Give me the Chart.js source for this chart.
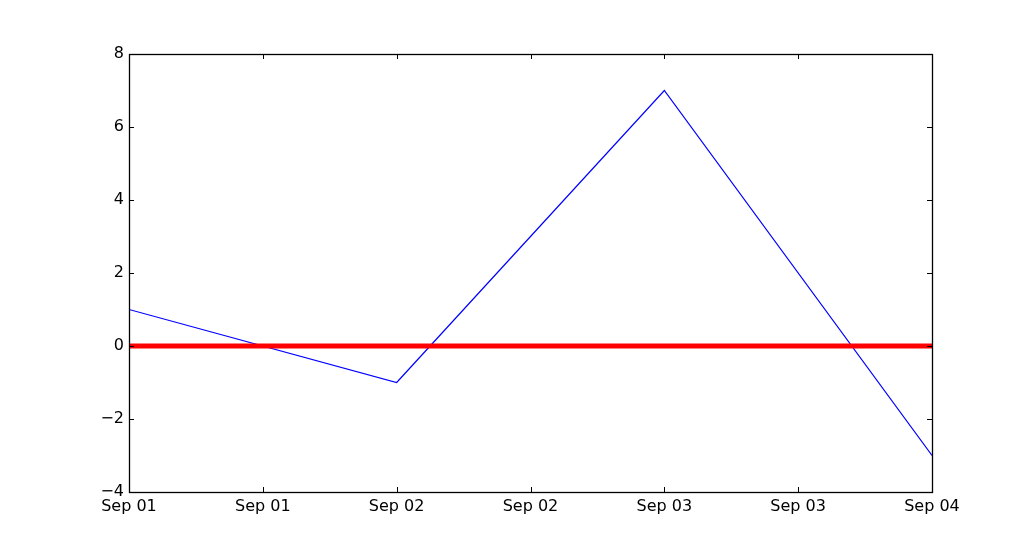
<!DOCTYPE html>
<html>
<head>
<meta charset="utf-8">
<script src="https://cdn.jsdelivr.net/npm/chart.js@4.4.1/dist/chart.umd.min.js"></script>
<style>
  html, body { margin: 0; padding: 0; background: #fff; }
</style>
</head>
<body>
<canvas id="c" width="1035" height="547"></canvas>
<script>
// x in half-day steps from Sep 01 00:00
const tickLabels = ["Sep 01", "Sep 01", "Sep 02", "Sep 02", "Sep 03", "Sep 03", "Sep 04"];
const pointX = [0, 2, 4, 6];
const values = [1, -1, 7, -3];
const zeroLine = [0, 0, 0, 0];
const yTicks = [-4, -2, 0, 2, 4, 6, 8];

const toPts = ys => pointX.map((x, i) => ({ x: x, y: ys[i] }));

// matplotlib-like frame with inward ticks on all four sides
const framePlugin = {
  id: "frame",
  afterDatasetsDraw(chart) {
    const { ctx, chartArea: a, scales } = chart;
    ctx.save();
    ctx.strokeStyle = "#000";
    ctx.lineWidth = 1;
    ctx.beginPath();
    scales.x.ticks.forEach(t => {
      const px = Math.round(scales.x.getPixelForValue(t.value)) + 0.5;
      ctx.moveTo(px, a.bottom); ctx.lineTo(px, a.bottom - 5);
      ctx.moveTo(px, a.top); ctx.lineTo(px, a.top + 5);
    });
    scales.y.ticks.forEach(t => {
      const py = Math.round(scales.y.getPixelForValue(t.value)) + 0.5;
      ctx.moveTo(a.left, py); ctx.lineTo(a.left + 5, py);
      ctx.moveTo(a.right, py); ctx.lineTo(a.right - 5, py);
    });
    ctx.stroke();
    ctx.lineWidth = 1.3;
    ctx.strokeRect(Math.round(a.left) + 0.5, Math.round(a.top) + 0.5,
      Math.round(a.right - a.left), Math.round(a.bottom - a.top));
    ctx.restore();
  }
};

new Chart(document.getElementById("c"), {
  type: "line",
  data: {
    datasets: [
      {
        data: toPts(zeroLine),
        borderColor: "#ff0000",
        borderWidth: 5,
        pointRadius: 0,
        order: 0
      },
      {
        data: toPts(values),
        borderColor: "#0000ff",
        borderWidth: 1.2,
        pointRadius: 0,
        tension: 0,
        order: 1
      }
    ]
  },
  options: {
    responsive: false,
    animation: false,
    layout: { padding: { top: 54, right: 103, left: 0, bottom: 0 } },
    plugins: { legend: { display: false }, tooltip: { enabled: false } },
    scales: {
      x: {
        type: "linear",
        min: 0,
        max: 6,
        grid: { display: false, drawTicks: false },
        border: { display: false },
        afterBuildTicks: s => { s.ticks = tickLabels.map((_, i) => ({ value: i })); },
        afterFit: s => { s.height = 55; },
        ticks: {
          padding: 5,
          color: "#000",
          font: { family: "DejaVu Sans", size: 16 },
          maxRotation: 0,
          autoSkip: false,
          callback: v => tickLabels[v]
        }
      },
      y: {
        min: -4,
        max: 8,
        grid: { display: false, drawTicks: false },
        border: { display: false },
        afterBuildTicks: s => { s.ticks = yTicks.map(v => ({ value: v })); },
        afterFit: s => { s.width = 129; },
        ticks: {
          padding: 5,
          color: "#000",
          font: { family: "DejaVu Sans", size: 16 },
          callback: v => (v < 0 ? "\u2212" + Math.abs(v) : String(v))
        }
      }
    }
  },
  plugins: [framePlugin]
});
</script>
</body>
</html>
